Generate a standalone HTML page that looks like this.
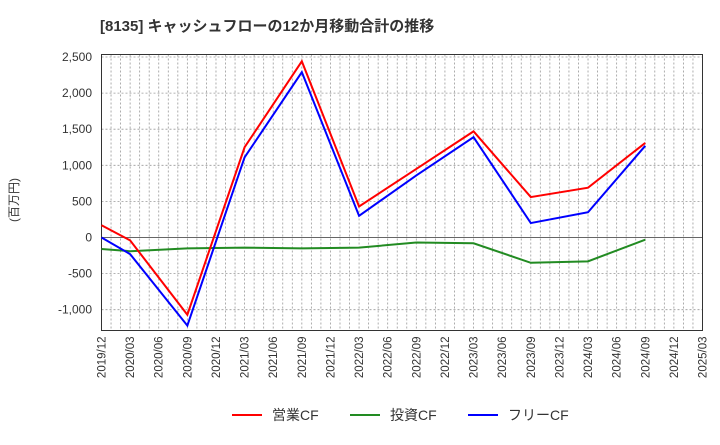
<!DOCTYPE html>
<html><head><meta charset="utf-8"><style>
body{margin:0;background:#fff;font-family:"Liberation Sans","Noto Sans CJK JP",sans-serif;}
svg text{font-family:"Liberation Sans","Noto Sans CJK JP",sans-serif;}
</style></head><body>
<svg id="chart" width="720" height="440" xmlns="http://www.w3.org/2000/svg">
<text x="100" y="31" font-size="15" font-weight="bold" fill="#333">[8135]  キャッシュフローの12か月移動合計の推移</text>
<text x="18" y="200" font-size="12" fill="#333" transform="rotate(-90 18 200)" text-anchor="middle">(百万円)</text>
<g id="grid"></g><g id="axes"></g><g id="series"></g>
<g>
<line x1="232" y1="415" x2="262" y2="415" stroke="#f00" stroke-width="2"/><text x="272" y="420" font-size="14" fill="#333">営業CF</text>
<line x1="350" y1="415" x2="380" y2="415" stroke="#228b22" stroke-width="2"/><text x="390" y="420" font-size="14" fill="#333">投資CF</text>
<line x1="468" y1="415" x2="498" y2="415" stroke="#00f" stroke-width="2"/><text x="508" y="420" font-size="14" fill="#333">フリーCF</text>
</g>
</svg>
<script>
const ticksX=["2019/12","2020/03","2020/06","2020/09","2020/12","2021/03","2021/06","2021/09","2021/12","2022/03","2022/06","2022/09","2022/12","2023/03","2023/06","2023/09","2023/12","2024/03","2024/06","2024/09","2024/12","2025/03"];
const ticksY=[2500,2000,1500,1000,500,0,-500,-1000];
const pointIdx=[0,1,3,5,7,9,11,13,15,17,19];
const operatingCF=[170,-40,-1070,1250,2440,430,950,1470,560,690,1310];
const investingCF=[-160,-190,-150,-140,-150,-140,-70,-80,-350,-330,-30];
const freeCF=[0,-230,-1220,1110,2290,300,860,1390,200,350,1270];
const L=101.5,R=702.5,T=54.5,B=330.5;
const x=i=>L+(R-L)*i/(ticksX.length-1);
const y=v=>237.5-v*72.2/1000;
const NS="http://www.w3.org/2000/svg";
function mk(tag,attrs,parent){const e=document.createElementNS(NS,tag);for(const k in attrs)e.setAttribute(k,attrs[k]);document.getElementById(parent).appendChild(e);return e;}
for(let m=1;m<(ticksX.length-1)*3;m++){const xx=L+(R-L)*m/((ticksX.length-1)*3);
const g=mk('line',{x1:xx,x2:xx,y1:T,y2:B,stroke:'#999','stroke-width':0.8,'stroke-dasharray':'2,2'},'grid');

}
ticksY.forEach(v=>{const g=mk('line',{x1:L,x2:R,y1:y(v),y2:y(v),stroke:v===0?'#666':'#999','stroke-width':v===0?1:0.8,'stroke-dasharray':v===0?'':'2,2'},'grid');


const t=mk('text',{x:92,y:y(v)+4,'text-anchor':'end','font-size':12,fill:'#333'},'axes');t.textContent=v.toLocaleString('en-US');

});
ticksX.forEach((s,i)=>{const t=mk('text',{x:x(i)+4,y:B+6,'text-anchor':'end','font-size':11.5,fill:'#333',transform:`rotate(-90 ${x(i)+4} ${B+6})`},'axes');t.textContent=s;

});
const f=mk('rect',{x:L,y:T,width:R-L,height:B-T,fill:'none',stroke:'#333','stroke-width':1},'axes');


[[investingCF,'#228b22','investing-cf-line'],[operatingCF,'#f00','operating-cf-line'],[freeCF,'#00f','free-cf-line']].forEach(([d,c,n])=>{
const p=mk('polyline',{points:d.map((v,k)=>x(pointIdx[k])+','+y(v)).join(' '),fill:'none',stroke:c,'stroke-width':2},'series');

});
</script>
</body></html>
